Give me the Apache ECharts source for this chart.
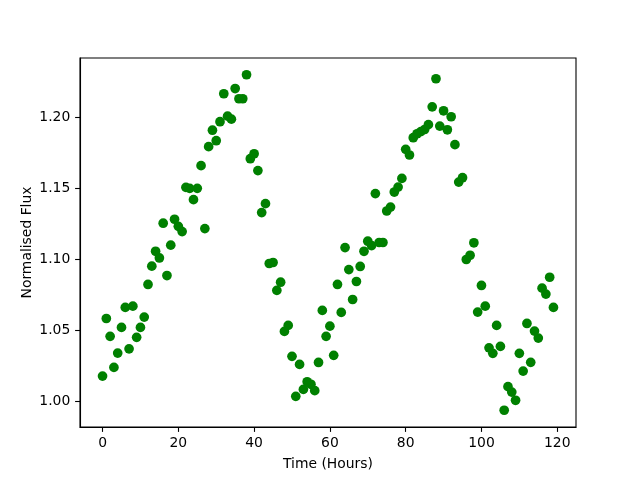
<!DOCTYPE html>
<html>
<head>
<meta charset="utf-8">
<script src="https://cdn.jsdelivr.net/npm/echarts@6/dist/echarts.min.js"></script>
<style>html,body{margin:0;padding:0;background:#fff}#c{width:640px;height:480px}</style>
</head>
<body>
<div id="c"></div>
<script>
var hours = [];
for (var h = 0; h < 120; h++) hours.push(h);
var flux = [
1.0176,1.0582,1.0456,1.0237,1.0338,1.0519,1.0660,1.0368,1.0669,1.0449,
1.0519,1.0592,1.0822,1.0951,1.1056,1.1009,1.1254,1.0885,1.1099,1.1282,
1.1232,1.1195,1.1507,1.1500,1.1420,1.1500,1.1660,1.1216,1.1794,1.1910,
1.1836,1.1970,1.2167,1.2009,1.1988,1.2204,1.2132,1.2132,1.2301,1.1709,
1.1744,1.1625,1.1329,1.1392,1.0970,1.0977,1.0780,1.0838,1.0491,1.0533,
1.0315,1.0033,1.0258,1.0082,1.0136,1.0118,1.0073,1.0272,1.0639,1.0456,
1.0528,1.0322,1.0822,1.0625,1.1082,1.0927,1.0716,1.0843,1.0949,1.1056,
1.1127,1.1096,1.1463,1.1118,1.1118,1.1340,1.1368,1.1474,1.1509,1.1570,
1.1775,1.1735,1.1857,1.1885,1.1900,1.1915,1.1949,1.2075,1.2273,1.1939,
1.2047,1.1913,1.2005,1.1808,1.1544,1.1575,1.0998,1.1028,1.1116,1.0627,
1.0815,1.0669,1.0375,1.0336,1.0533,1.0385,0.9935,1.0101,1.0063,1.0005,
1.0336,1.0211,1.0547,1.0273,1.0493,1.0444,1.0796,1.0754,1.0873,1.0660
];
var xTicks = [0, 20, 40, 60, 80, 100, 120];
var yTicks = [1.00, 1.05, 1.10, 1.15, 1.20];
var xTitle = 'Time (Hours)';
var yTitle = 'Normalised Flux';

var pts = hours.map(function (t, i) { return [t, flux[i]]; });
var xmin = Math.min.apply(null, hours), xmax = Math.max.apply(null, hours);
var ymin = Math.min.apply(null, flux), ymax = Math.max.apply(null, flux);
var xm = (xmax - xmin) * 0.05, ym = (ymax - ymin) * 0.05;
var font = 'DejaVu Sans';
var fs = 13.9;

var chart = echarts.init(document.getElementById('c'), null, {renderer: 'canvas'});
chart.setOption({
  animation: false,
  backgroundColor: '#fff',
  grid: {left: 80, right: 64, top: 58, bottom: 53, show: true, borderColor: '#000', borderWidth: 1.1, backgroundColor: 'transparent'},
  xAxis: {
    type: 'value', min: xmin - xm, max: xmax + xm,
    name: xTitle, nameLocation: 'middle', nameGap: 30, nameMoveOverlap: false,
    nameTextStyle: {fontFamily: font, fontSize: fs, color: '#000'},
    axisLine: {show: true, onZero: false, lineStyle: {color: '#000', width: 1.1}},
    axisTick: {show: true, inside: false, length: 4.9, customValues: xTicks, lineStyle: {color: '#000', width: 1.1}},
    axisLabel: {show: true, margin: 9.7, customValues: xTicks, fontFamily: font, fontSize: fs, color: '#000',
      formatter: function (v) { return String(Math.round(v)); }},
    splitLine: {show: false}
  },
  yAxis: {
    type: 'value', min: ymin - ym, max: ymax + ym,
    name: yTitle, nameLocation: 'middle', nameGap: 46, nameMoveOverlap: false,
    nameTextStyle: {fontFamily: font, fontSize: fs, color: '#000'},
    axisLine: {show: true, onZero: false, lineStyle: {color: '#000', width: 1.1}},
    axisTick: {show: true, inside: false, length: 4.9, customValues: yTicks, lineStyle: {color: '#000', width: 1.1}},
    axisLabel: {show: true, margin: 9.7, customValues: yTicks, fontFamily: font, fontSize: fs, color: '#000',
      formatter: function (v) { return v.toFixed(2); }},
    splitLine: {show: false}
  },
  series: [{
    type: 'scatter', data: pts, symbol: 'circle', symbolSize: 9.7,
    itemStyle: {color: '#008000', opacity: 1}
  }]
});
</script>
</body>
</html>
